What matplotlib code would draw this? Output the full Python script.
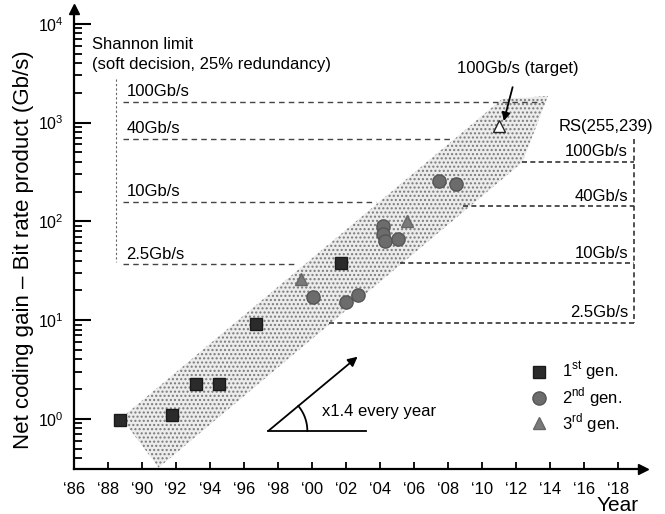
import numpy as np
import matplotlib
matplotlib.use("Agg")
import matplotlib.pyplot as plt
from matplotlib.patches import Polygon

plt.rcParams['font.family'] = ['Liberation Sans', 'DejaVu Sans']

# data
gen1_year = [1988.7, 1991.8, 1993.2, 1994.55, 1996.7, 2001.7]
gen1_val = [0.98, 1.1, 2.27, 2.27, 9.2, 37.5]

gen2_year = [2000.1, 2002.0, 2002.7, 2004.2, 2004.2, 2004.3, 2005.1, 2007.5, 2008.5]
gen2_val = [17.3, 15.4, 17.8, 89, 74, 63, 66, 255, 238]

gen3_year = [1999.4, 2005.6]
gen3_val = [25.8, 100]

target_year = 2011.0
target_val = 920

# shaded trend band
band_year = [1988.8, 1991.0, 2012.4, 2013.9, 2011.2]
band_val = [1.02, 0.32, 397, 1858, 1733]

# Shannon limit (soft decision, 25% redundancy)
shannon_labels = ["100Gb/s", "40Gb/s", "10Gb/s", "2.5Gb/s"]
shannon_level = [1615, 680, 156, 36.6]
shannon_end = [2013.6, 2008.3, 2003.8, 1999.0]

# RS(255,239)
rs_labels = ["100Gb/s", "40Gb/s", "10Gb/s", "2.5Gb/s"]
rs_level = [397, 142, 37.5, 9.4]
rs_start = [2012.4, 2008.9, 2005.2, 2001.0]

years = np.arange(1986, 2019, 2)
year_labels = ["\u2018%02d" % (y % 100) for y in years]

fig = plt.figure(figsize=(6.65, 5.14), dpi=100)
ax = fig.add_axes([0.1108, 0.0875, 0.8564, 0.895])
ax.set_yscale('log')
ax.set_xlim(1986, 2019.5)
ax.set_ylim(10 ** -0.508, 10 ** 4.15)

ax.spines['top'].set_visible(False)
ax.spines['right'].set_visible(False)
ax.spines['left'].set_linewidth(1.6)
ax.spines['bottom'].set_linewidth(1.6)
ax.plot(1, 0, '>', color='k', ms=7, transform=ax.transAxes, clip_on=False)
ax.plot(0, 1, '^', color='k', ms=7, transform=ax.transAxes, clip_on=False)

ax.set_xticks(years)
ax.set_xticklabels(year_labels)
ax.tick_params(axis='x', direction='in', length=5, width=1.3, pad=9, labelsize=12)
ax.tick_params(axis='y', which='major', direction='in', length=12, width=1.5, pad=7, labelsize=11.5)
ax.tick_params(axis='y', which='minor', direction='in', length=6, width=1.3)

band = Polygon(list(zip(band_year, band_val)), closed=True, facecolor='#ececec',
               edgecolor='#7a7a7a', hatch='....', lw=0, zorder=1)
ax.add_patch(band)

# Shannon limit lines
ax.plot([1988.5, 1988.5], [2760, 39], color='#666', lw=0.8, ls=(0, (2, 2)), zorder=2)
for lab, lev, end in zip(shannon_labels, shannon_level, shannon_end):
    ax.plot([1988.9, end], [lev, lev], color='#444', lw=1.0, ls=(0, (4, 3)), zorder=2)
    ax.annotate(lab, (1989.1, lev), xytext=(0, 2), textcoords='offset points',
                ha='left', va='bottom', fontsize=12)
ax.text(1987.1, 10 ** 3.69, "Shannon limit\n(soft decision, 25% redundancy)",
        fontsize=12, ha='left', va='center', linespacing=1.45)

# RS lines
ax.plot([2018.95, 2018.95], [680, 9.4], color='#333', lw=1.2, ls=(0, (3, 2)), zorder=2)
for lab, lev, st in zip(rs_labels, rs_level, rs_start):
    ax.plot([st, 2018.95], [lev, lev], color='#333', lw=1.2, ls=(0, (3, 2)), zorder=2)
    ax.annotate(lab, (2018.6, lev), xytext=(0, 2), textcoords='offset points',
                ha='right', va='bottom', fontsize=12)
ax.text(2020.1, 921, "RS(255,239)", fontsize=12, ha='right', va='center', clip_on=False)

# data points
ax.plot(gen1_year, gen1_val, 's', ms=8, color='#2b2b2b', mec='#1a1a1a', ls='none',
        zorder=4, label="1$^{\\mathregular{st}}$ gen.")
ax.plot(gen2_year, gen2_val, 'o', ms=9.5, color='#6c6c6c', mec='#555', ls='none',
        zorder=4, label="2$^{\\mathregular{nd}}$ gen.")
ax.plot(gen3_year, gen3_val, '^', ms=9, color='#7a7a7a', mec='#666', ls='none',
        zorder=4, label="3$^{\\mathregular{rd}}$ gen.")
ax.plot([target_year], [target_val], '^', ms=9, mfc='white', mec='#222', mew=1.0, zorder=4)

ax.annotate("100Gb/s (target)", xy=(2011.3, 1036), xytext=(2012.1, 3500),
            ha='center', va='center', fontsize=12,
            arrowprops=dict(arrowstyle='-|>', color='k', lw=1.3, shrinkA=6, shrinkB=0))

# slope indicator
x0, y0 = 1997.45, 0.755
ax.plot([x0, 2003.2], [y0, y0], color='k', lw=1.3)
ax.annotate("", xy=(2002.7, 4.26), xytext=(x0, y0),
            arrowprops=dict(arrowstyle='-|>', color='k', lw=1.3, shrinkA=0, shrinkB=0,
                            mutation_scale=14))
p0 = ax.transData.transform((x0, y0))
p1 = ax.transData.transform((2002.7, 4.26))
ang = np.degrees(np.arctan2(p1[1] - p0[1], p1[0] - p0[0]))
t = np.radians(np.linspace(0, ang, 30))
arc_pts = ax.transData.inverted().transform(np.column_stack([p0[0] + 39 * np.cos(t), p0[1] + 39 * np.sin(t)]))
ax.plot(arc_pts[:, 0], arc_pts[:, 1], color='k', lw=1.3)
ax.text(2000.6, 1.18, "x1.4 every year", fontsize=12, ha='left', va='center')

ax.legend(loc='upper left', bbox_to_anchor=(0.787, 0.255), frameon=False, fontsize=12,
          handlelength=1.0, handletextpad=0.9, labelspacing=0.12, borderpad=0)

fig.text(0.036, 0.514, "Net coding gain \u2013 Bit rate product (Gb/s)", rotation=90,
         ha='center', va='center', fontsize=16)
fig.text(0.929, 0.016, "Year", ha='center', va='center', fontsize=15)

fig.savefig("out.png", dpi=100)
